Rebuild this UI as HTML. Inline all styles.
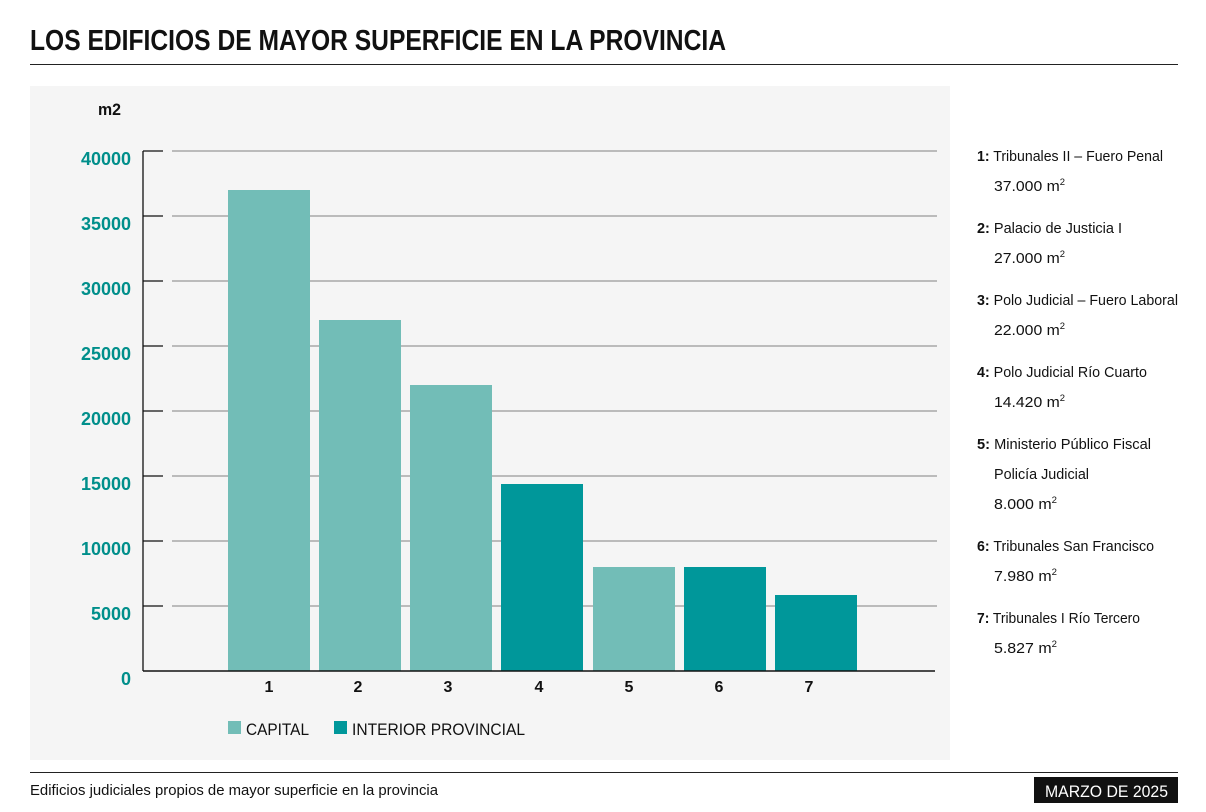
<!DOCTYPE html>
<html><head><meta charset="utf-8"><style>
html,body{margin:0;padding:0;background:#fff;}
svg{display:block;}
text{font-family:"Liberation Sans Narrow","Liberation Sans",sans-serif;}
</style></head><body>
<svg width="1206" height="812" viewBox="0 0 1206 812" xmlns="http://www.w3.org/2000/svg">
<rect width="1206" height="812" fill="#fff"/>
<text x="30" y="50" font-size="29" font-weight="bold" fill="#111" textLength="696" lengthAdjust="spacingAndGlyphs">LOS EDIFICIOS DE MAYOR SUPERFICIE EN LA PROVINCIA</text>
<line x1="30" y1="64.5" x2="1178" y2="64.5" stroke="#222" stroke-width="1"/>
<rect x="30" y="86" width="920" height="674" fill="#f5f5f5"/>
<text x="98" y="115" font-size="17" font-weight="bold" fill="#111" textLength="23" lengthAdjust="spacingAndGlyphs">m2</text>
<g stroke="#999" stroke-width="1.3">
<line x1="172" y1="151" x2="937" y2="151"/>
<line x1="172" y1="216" x2="937" y2="216"/>
<line x1="172" y1="281" x2="937" y2="281"/>
<line x1="172" y1="346" x2="937" y2="346"/>
<line x1="172" y1="411" x2="937" y2="411"/>
<line x1="172" y1="476" x2="937" y2="476"/>
<line x1="172" y1="541" x2="937" y2="541"/>
<line x1="172" y1="606" x2="937" y2="606"/>
</g>
<g stroke="#111" stroke-width="1.3">
<line x1="143" y1="151" x2="143" y2="671"/>
<line x1="143" y1="151" x2="163" y2="151"/>
<line x1="143" y1="216" x2="163" y2="216"/>
<line x1="143" y1="281" x2="163" y2="281"/>
<line x1="143" y1="346" x2="163" y2="346"/>
<line x1="143" y1="411" x2="163" y2="411"/>
<line x1="143" y1="476" x2="163" y2="476"/>
<line x1="143" y1="541" x2="163" y2="541"/>
<line x1="143" y1="606" x2="163" y2="606"/>
</g>
<g font-size="18" font-weight="bold" fill="#008f8b" text-anchor="end">
<text x="131" y="165">40000</text>
<text x="131" y="230">35000</text>
<text x="131" y="295">30000</text>
<text x="131" y="360">25000</text>
<text x="131" y="425">20000</text>
<text x="131" y="490">15000</text>
<text x="131" y="555">10000</text>
<text x="131" y="620">5000</text>
<text x="131" y="685">0</text>
</g>
<rect x="228" y="190" width="82" height="481" fill="#72bdb7"/>
<rect x="319" y="320" width="82" height="351" fill="#72bdb7"/>
<rect x="410" y="385" width="82" height="286" fill="#72bdb7"/>
<rect x="501" y="484" width="82" height="187" fill="#00979a"/>
<rect x="593" y="567" width="82" height="104" fill="#72bdb7"/>
<rect x="684" y="567" width="82" height="104" fill="#00979a"/>
<rect x="775" y="595" width="82" height="76" fill="#00979a"/>
<line x1="143" y1="671" x2="935" y2="671" stroke="#111" stroke-width="1.5"/>
<g font-size="16" font-weight="bold" fill="#111" text-anchor="middle">
<text x="269" y="692">1</text>
<text x="358" y="692">2</text>
<text x="448" y="692">3</text>
<text x="539" y="692">4</text>
<text x="629" y="692">5</text>
<text x="719" y="692">6</text>
<text x="809" y="692">7</text>
</g>
<rect x="228" y="721" width="13" height="13" fill="#72bdb7"/>
<text x="246" y="735" font-size="17" fill="#111" textLength="63" lengthAdjust="spacingAndGlyphs">CAPITAL</text>
<rect x="334" y="721" width="13" height="13" fill="#00979a"/>
<text x="352" y="735" font-size="17" fill="#111" textLength="173" lengthAdjust="spacingAndGlyphs">INTERIOR PROVINCIAL</text>
<g font-size="15" fill="#111">
<text x="977" y="161" textLength="186" lengthAdjust="spacingAndGlyphs"><tspan font-weight="bold">1:</tspan> Tribunales II – Fuero Penal</text>
<text x="994" y="191" textLength="71" lengthAdjust="spacingAndGlyphs">37.000 m<tspan font-size="9" dy="-6">2</tspan></text>
<text x="977" y="233" textLength="145" lengthAdjust="spacingAndGlyphs"><tspan font-weight="bold">2:</tspan> Palacio de Justicia I</text>
<text x="994" y="263" textLength="71" lengthAdjust="spacingAndGlyphs">27.000 m<tspan font-size="9" dy="-6">2</tspan></text>
<text x="977" y="305" textLength="201" lengthAdjust="spacingAndGlyphs"><tspan font-weight="bold">3:</tspan> Polo Judicial – Fuero Laboral</text>
<text x="994" y="335" textLength="71" lengthAdjust="spacingAndGlyphs">22.000 m<tspan font-size="9" dy="-6">2</tspan></text>
<text x="977" y="377" textLength="170" lengthAdjust="spacingAndGlyphs"><tspan font-weight="bold">4:</tspan> Polo Judicial Río Cuarto</text>
<text x="994" y="407" textLength="71" lengthAdjust="spacingAndGlyphs">14.420 m<tspan font-size="9" dy="-6">2</tspan></text>
<text x="977" y="449" textLength="174" lengthAdjust="spacingAndGlyphs"><tspan font-weight="bold">5:</tspan> Ministerio Público Fiscal</text>
<text x="994" y="479" textLength="95" lengthAdjust="spacingAndGlyphs">Policía Judicial</text>
<text x="994" y="509" textLength="63" lengthAdjust="spacingAndGlyphs">8.000 m<tspan font-size="9" dy="-6">2</tspan></text>
<text x="977" y="551" textLength="177" lengthAdjust="spacingAndGlyphs"><tspan font-weight="bold">6:</tspan> Tribunales San Francisco</text>
<text x="994" y="581" textLength="63" lengthAdjust="spacingAndGlyphs">7.980 m<tspan font-size="9" dy="-6">2</tspan></text>
<text x="977" y="623" textLength="163" lengthAdjust="spacingAndGlyphs"><tspan font-weight="bold">7:</tspan> Tribunales I Río Tercero</text>
<text x="994" y="653" textLength="63" lengthAdjust="spacingAndGlyphs">5.827 m<tspan font-size="9" dy="-6">2</tspan></text>
</g>
<line x1="30" y1="772.5" x2="1178" y2="772.5" stroke="#222" stroke-width="1"/>
<text x="30" y="795" font-size="15" fill="#111" textLength="408" lengthAdjust="spacingAndGlyphs">Edificios judiciales propios de mayor superficie en la provincia</text>
<rect x="1034" y="777" width="144" height="26" fill="#111"/>
<text x="1045" y="797" font-size="17" fill="#fff" textLength="123" lengthAdjust="spacingAndGlyphs">MARZO DE 2025</text>
</svg>
</body></html>
